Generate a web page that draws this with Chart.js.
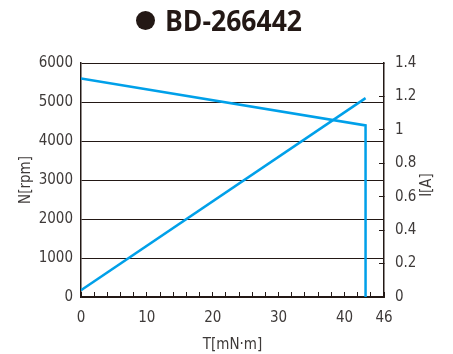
<!DOCTYPE html>
<html>
<head>
<meta charset="utf-8">
<script src="https://cdn.jsdelivr.net/npm/chart.js@4.4.0/dist/chart.umd.min.js"></script>
<style>
  html, body { margin: 0; padding: 0; background: #fff; }
  #wrap { position: relative; width: 453px; height: 354px; }
</style>
</head>
<body>
<div id="wrap"><canvas id="motorChart" width="453" height="354"></canvas></div>
<script>
// ---- data ----
const chartTitle = 'BD-266442';
const speedTorque = [0, 43.2, 43.2];      // T [mN·m]
const speedValues = [5600, 4400, 0];      // N [rpm]
const currentTorque = [0, 43.2];          // T [mN·m]
const currentValues = [0.04, 1.19];       // I [A]
const xTickLabels = [0, 10, 20, 30, 40, 46];

const LINE_COLOR = '#00a0e9';
const INK = '#231815';
const TEXT = '#3e3a39';
const FONT = "'Liberation Sans Narrow', 'DejaVu Sans Condensed', sans-serif";

const toPoints = (xs, ys) => xs.map((x, i) => ({ x: x, y: ys[i] }));

// title (bullet + model name) and right-axis caption reading bottom-to-top
const decorPlugin = {
  id: 'decor',
  afterDraw(chart) {
    const ctx = chart.ctx;
    ctx.save();
    ctx.fillStyle = INK;
    ctx.beginPath();
    ctx.arc(145.5, 20.5, 9.5, 0, Math.PI * 2);
    ctx.fill();
    ctx.font = "bold 28px 'Open Sans', sans-serif";
    ctx.textAlign = 'left';
    ctx.textBaseline = 'alphabetic';
    ctx.fillText(chartTitle, 165, 31, 137);

    ctx.fillStyle = TEXT;
    ctx.font = '15px ' + FONT;
    ctx.translate(427, 185);
    ctx.rotate(-Math.PI / 2);
    ctx.textAlign = 'center';
    ctx.textBaseline = 'middle';
    ctx.fillText('I[A]', 0, 0);
    ctx.restore();
  }
};

const ctx = document.getElementById('motorChart').getContext('2d');
new Chart(ctx, {
  type: 'scatter',
  data: {
    datasets: [{
      label: 'N',
      data: toPoints(speedTorque, speedValues),
      yAxisID: 'y',
      showLine: true,
      borderColor: LINE_COLOR,
      borderWidth: 2.5,
      pointRadius: 0,
      tension: 0
    }, {
      label: 'I',
      data: toPoints(currentTorque, currentValues),
      yAxisID: 'y2',
      showLine: true,
      borderColor: LINE_COLOR,
      borderWidth: 2.5,
      pointRadius: 0,
      tension: 0
    }]
  },
  options: {
    responsive: false,
    animation: false,
    layout: { padding: { top: 63, left: 0, right: 0, bottom: 0 } },
    plugins: {
      legend: { display: false },
      tooltip: { enabled: false }
    },
    scales: {
      x: {
        type: 'linear',
        min: 0,
        max: 46,
        border: { color: INK, width: 1.5 },
        grid: { drawOnChartArea: false, drawTicks: true, tickLength: -5, color: INK, lineWidth: 1 },
        ticks: {
          stepSize: 2,
          autoSkip: false,
          maxRotation: 0,
          padding: 17,
          color: TEXT,
          font: { family: FONT, size: 15 },
          callback: (v) => xTickLabels.includes(v) ? String(v) : ''
        },
        title: {
          display: true,
          text: 'T[mN·m]',
          color: TEXT,
          font: { family: FONT, size: 15 },
          padding: { top: 3, bottom: 0 }
        },
        afterFit: (scale) => { scale.height = 57; }
      },
      y: {
        position: 'left',
        min: 0,
        max: 6000,
        border: { color: INK, width: 1.5 },
        grid: { drawTicks: false, color: INK, lineWidth: 1 },
        ticks: {
          stepSize: 1000,
          padding: 8,
          color: TEXT,
          font: { family: FONT, size: 15 },
          callback: (v) => String(v)
        },
        title: {
          display: true,
          text: 'N[rpm]',
          color: TEXT,
          font: { family: FONT, size: 15 },
          padding: { top: 17, bottom: 0 }
        },
        afterFit: (scale) => { scale.width = 81; }
      },
      y2: {
        position: 'right',
        min: 0,
        max: 1.4,
        border: { color: INK, width: 1.5 },
        grid: { drawOnChartArea: false, drawTicks: true, tickLength: -5, color: INK, lineWidth: 1 },
        ticks: {
          stepSize: 0.2,
          padding: 16,
          color: TEXT,
          font: { family: FONT, size: 15 },
          callback: (v) => String(Math.round(v * 10) / 10)
        },
        afterFit: (scale) => { scale.width = 69; }
      }
    }
  },
  plugins: [decorPlugin]
});
</script>
</body>
</html>
